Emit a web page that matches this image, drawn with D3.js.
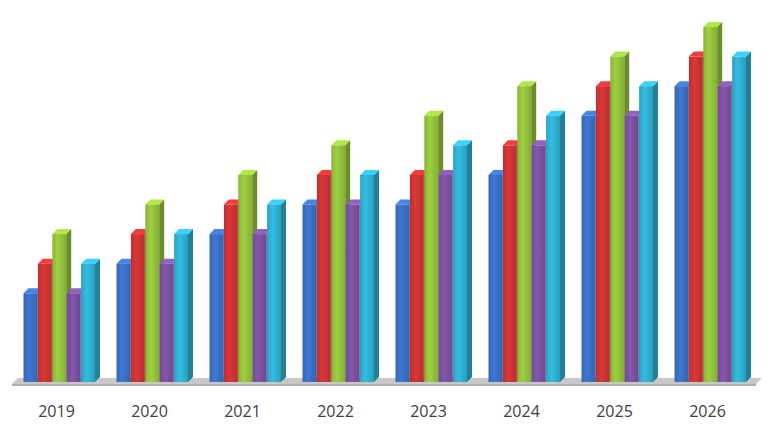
<!DOCTYPE html>
<meta charset="utf-8">
<style>
body { margin: 0; background: #fff; }
text { font-family: "Open Sans", "Liberation Sans", sans-serif; font-size: 16px; fill: #404040; }
</style>
<body>
<script src="https://cdn.jsdelivr.net/npm/d3@7"></script>
<script>
var width = 780, height = 440;

var years = ["2019", "2020", "2021", "2022", "2023", "2024", "2025", "2026"];
var seriesNames = ["A", "B", "C", "D", "E"];
var colors = ["#3a6fc4", "#cc3333", "#93c23c", "#7b519f", "#2fb0d2"];
var sA = [3, 4, 5, 6, 6, 7, 9, 10];
var sB = [4, 5, 6, 7, 7, 8, 10, 11];
var sC = [5, 6, 7, 8, 9, 10, 11, 12];
var sD = [3, 4, 5, 6, 7, 8, 9, 10];
var sE = [4, 5, 6, 7, 8, 9, 10, 11];
var series = [sA, sB, sC, sD, sE];

var base = 382, dx = 5, dy = 5;

var x = d3.scaleBand().domain(years).range([10, 754]);
var xs = d3.scaleBand().domain(d3.range(5)).range([-33, 39]).paddingInner(0);
var y = d3.scaleLinear().domain([0, 12]).range([base, 27]);

var svg = d3.select("body").append("svg")
    .attr("width", width).attr("height", height);

// floor
svg.append("polygon")
    .attr("points", [[12, base + 2], [18, base - 4], [762, base - 4], [756, base + 2]].join(" "))
    .attr("fill", "#c8c8c8");
svg.append("rect").attr("x", 12).attr("y", base + 2).attr("width", 744).attr("height", 2).attr("fill", "#b0b0b0");

var bw = xs.bandwidth() - 0.5;

years.forEach(function(yr, i) {
  var cx = x(yr) + x.bandwidth() / 2;
  var g = svg.append("g");
  series.forEach(function(s, j) {
    var x0 = cx + xs(j), top = y(s[i]), c = d3.color(colors[j]);
    // side face
    g.append("polygon")
      .attr("points", [[x0 + bw, top], [x0 + bw + dx, top - dy], [x0 + bw + dx, base - dy], [x0 + bw, base]].join(" "))
      .attr("fill", c.darker(0.9));
    // top face
    g.append("polygon")
      .attr("points", [[x0, top], [x0 + dx, top - dy], [x0 + bw + dx, top - dy], [x0 + bw, top]].join(" "))
      .attr("fill", c.brighter(0.5));
    // front face with gradient
    var gid = "gr" + i + "_" + j;
    var lg = svg.append("defs").append("linearGradient").attr("id", gid);
    lg.append("stop").attr("offset", "0%").attr("stop-color", c.darker(0.2));
    lg.append("stop").attr("offset", "40%").attr("stop-color", c.brighter(0.2));
    lg.append("stop").attr("offset", "100%").attr("stop-color", c.darker(0.3));
    g.append("rect").attr("x", x0).attr("y", top).attr("width", bw).attr("height", base - top)
      .attr("fill", "url(#" + gid + ")");
  });
});

svg.append("g").selectAll("text").data(years).join("text")
    .attr("x", function(d) { return x(d) + x.bandwidth() / 2; })
    .attr("y", 417)
    .attr("text-anchor", "middle")
    .text(function(d) { return d; });
</script>
